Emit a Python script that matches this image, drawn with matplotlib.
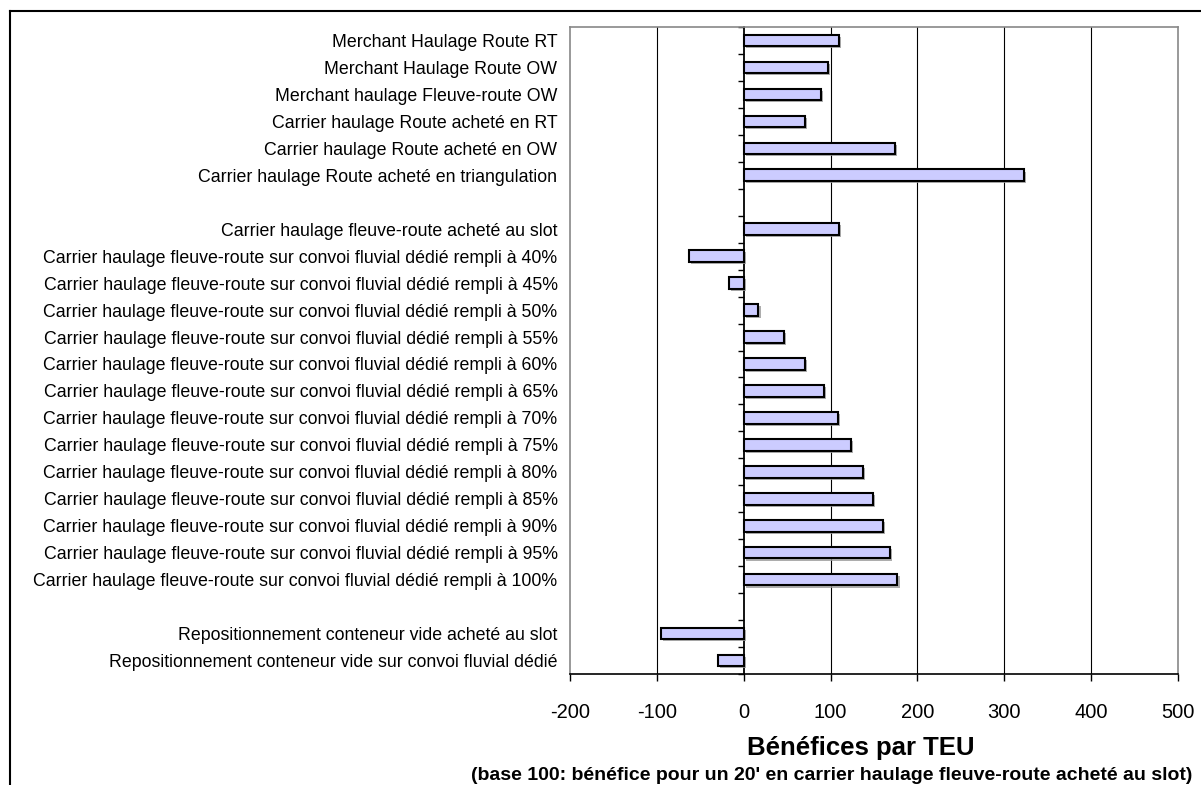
import numpy as np
import matplotlib
matplotlib.use("Agg")
import matplotlib.pyplot as plt
import matplotlib.patheffects as pe
from matplotlib.lines import Line2D

plt.rcParams['font.family'] = ['Liberation Sans', 'DejaVu Sans']

# categories from top to bottom ("" = empty row)
labels = [
    "Merchant Haulage Route RT",
    "Merchant Haulage Route OW",
    "Merchant haulage Fleuve-route OW",
    "Carrier haulage Route acheté en RT",
    "Carrier haulage Route acheté en OW",
    "Carrier haulage Route acheté en triangulation",
    "",
    "Carrier haulage fleuve-route acheté au slot",
] + ["Carrier haulage fleuve-route sur convoi fluvial dédié rempli à %d%%" % p
     for p in [40, 45, 50, 55, 60, 65, 70, 75, 80, 85, 90, 95, 100]] + [
    "",
    "Repositionnement conteneur vide acheté au slot",
    "Repositionnement conteneur vide sur convoi fluvial dédié",
]

values = [110, 97, 89, 71, 174, 323,
          np.nan,
          110,
          -63, -17, 17, 46, 71, 92, 109, 123, 137, 149, 160, 168, 177,
          np.nan,
          -95, -30]

xticks = [-200, -100, 0, 100, 200, 300, 400, 500]

fig = plt.figure(figsize=(12.01, 7.85), dpi=100)
ax = fig.add_axes([570/1201, 1-674/785, (1178-570)/1201, (674-27)/785])

y = np.arange(len(labels))
ax.barh(y, values, height=0.43, color='#CCCCFF', edgecolor='black', linewidth=1.5,
        zorder=3,
        path_effects=[pe.SimplePatchShadow(offset=(1.5, -1.5), shadow_rgbFace='#999999', alpha=0.8),
                      pe.Normal()])

ax.set_xlim(-200, 500)
ax.set_ylim(len(labels) - 0.5, -0.5)
ax.set_xticks(xticks)
ax.set_xticklabels([str(v) for v in xticks], fontsize=14.5)
ax.tick_params(axis='x', length=5, width=1, pad=16, color='black')
ax.set_yticks(y)
ax.set_yticklabels(labels, fontsize=12.8)
ax.tick_params(axis='y', length=0, pad=9)

for v in [-100, 100, 200, 300, 400]:
    ax.axvline(v, color='black', linewidth=0.8, zorder=1)

for s in ['top', 'left', 'right']:
    ax.spines[s].set_color('#888888')
    ax.spines[s].set_linewidth(1.2)
ax.spines['bottom'].set_color('black')
ax.spines['bottom'].set_linewidth(1.2)

# category axis at x = 0 with tick marks between rows
sec = ax.secondary_yaxis(200/700)
sec.set_yticks(np.arange(len(labels) + 1) - 0.5)
sec.set_yticklabels([])
sec.tick_params(length=4, width=1, color='black')
sec.spines['left'].set_linewidth(1.3)
sec.spines['left'].set_color('black')

fig.text(861/1201, 1-748/785, "Bénéfices par TEU", ha='center', va='center',
         fontsize=18.5, fontweight='bold')
fig.text(832/1201, 1-775/785,
         "(base 100: bénéfice pour un 20' en carrier haulage fleuve-route acheté au slot)",
         ha='center', va='center', fontsize=14, fontweight='bold')

# outer frame
fig.add_artist(Line2D([10/1201, 10/1201], [0, 1-11/785], color='black', linewidth=1.5))
fig.add_artist(Line2D([10/1201, 1], [1-11/785, 1-11/785], color='black', linewidth=1.5))

fig.savefig("out.png", dpi=100)
